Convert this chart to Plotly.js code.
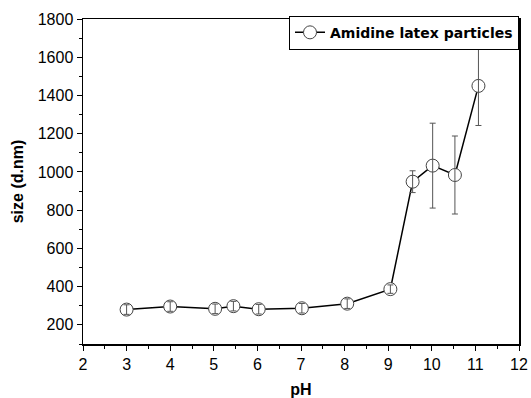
<!DOCTYPE html>
<html>
<head>
<meta charset="utf-8">
<script src="https://cdn.plot.ly/plotly-3.0.1.min.js"></script>
<style>html,body{margin:0;padding:0;background:#fff;}#chart{width:531px;height:398px;}</style>
</head>
<body>
<div id="chart"></div>
<script>
const pH = [3.0, 4.0, 5.03, 5.45, 6.03, 7.02, 8.06, 9.05, 9.56, 10.02, 10.53, 11.07];
const sizeNm = [280, 296, 284, 298, 282, 287, 311, 387, 949, 1033, 984, 1450];
const sizeErr = [25, 25, 25, 25, 25, 25, 25, 22, 57, 222, 204, 207];
const seriesName = 'Amidine latex particles';

const FONT = 'Liberation Sans, Arial, sans-serif';
const trace = {
  x: pH, y: sizeNm, name: seriesName,
  type: 'scatter', mode: 'lines+markers',
  line: {color: '#000', width: 1.5},
  marker: {symbol: 'circle', size: 13, color: '#fff', line: {color: '#444', width: 1}}
};
const errTrace = {
  x: pH, y: sizeNm, name: seriesName, showlegend: false,
  type: 'scatter', mode: 'markers',
  marker: {size: 13, opacity: 0},
  error_y: {type: 'data', array: sizeErr, visible: true, color: '#555', thickness: 1, width: 3}
};

const axisFont = {family: FONT, size: 16, color: '#000'};
const layout = {
  width: 531, height: 398,
  margin: {l: 83, r: 12, t: 19, b: 54},
  paper_bgcolor: '#fff', plot_bgcolor: '#fff',
  showlegend: true,
  legend: {x: 1, xanchor: 'right', y: 1.01, yanchor: 'top', bordercolor: '#000', borderwidth: 1,
    bgcolor: '#fff', font: {family: 'DejaVu Sans, sans-serif', size: 14, color: '#000', weight: 'bold'},
    tracegroupgap: 0, itemwidth: 30},
  xaxis: {
    range: [2, 12], dtick: 1, tick0: 2, showgrid: false, zeroline: false,
    showline: true, linecolor: '#000', linewidth: 1.5, mirror: true,
    ticks: 'outside', ticklen: 5, tickcolor: '#000', tickfont: axisFont,
    minor: {dtick: 0.5, ticks: 'outside', ticklen: 3, tickcolor: '#000', showgrid: false},
    title: {text: 'pH', font: {family: FONT, size: 16, color: '#000', weight: 'bold'}, standoff: 16}
  },
  yaxis: {
    range: [100, 1800], tick0: 0, dtick: 200, showgrid: false, zeroline: false,
    showline: true, linecolor: '#000', linewidth: 1.5, mirror: true,
    ticks: 'outside', ticklen: 5, tickcolor: '#000', tickfont: axisFont,
    minor: {dtick: 100, ticks: 'outside', ticklen: 3, tickcolor: '#000', showgrid: false},
    title: {text: 'size (d.nm)', font: {family: FONT, size: 16, color: '#000', weight: 'bold'}, standoff: 10}
  }
};
Plotly.newPlot('chart', [trace, errTrace], layout, {staticPlot: true, displayModeBar: false});
</script>
</body>
</html>
